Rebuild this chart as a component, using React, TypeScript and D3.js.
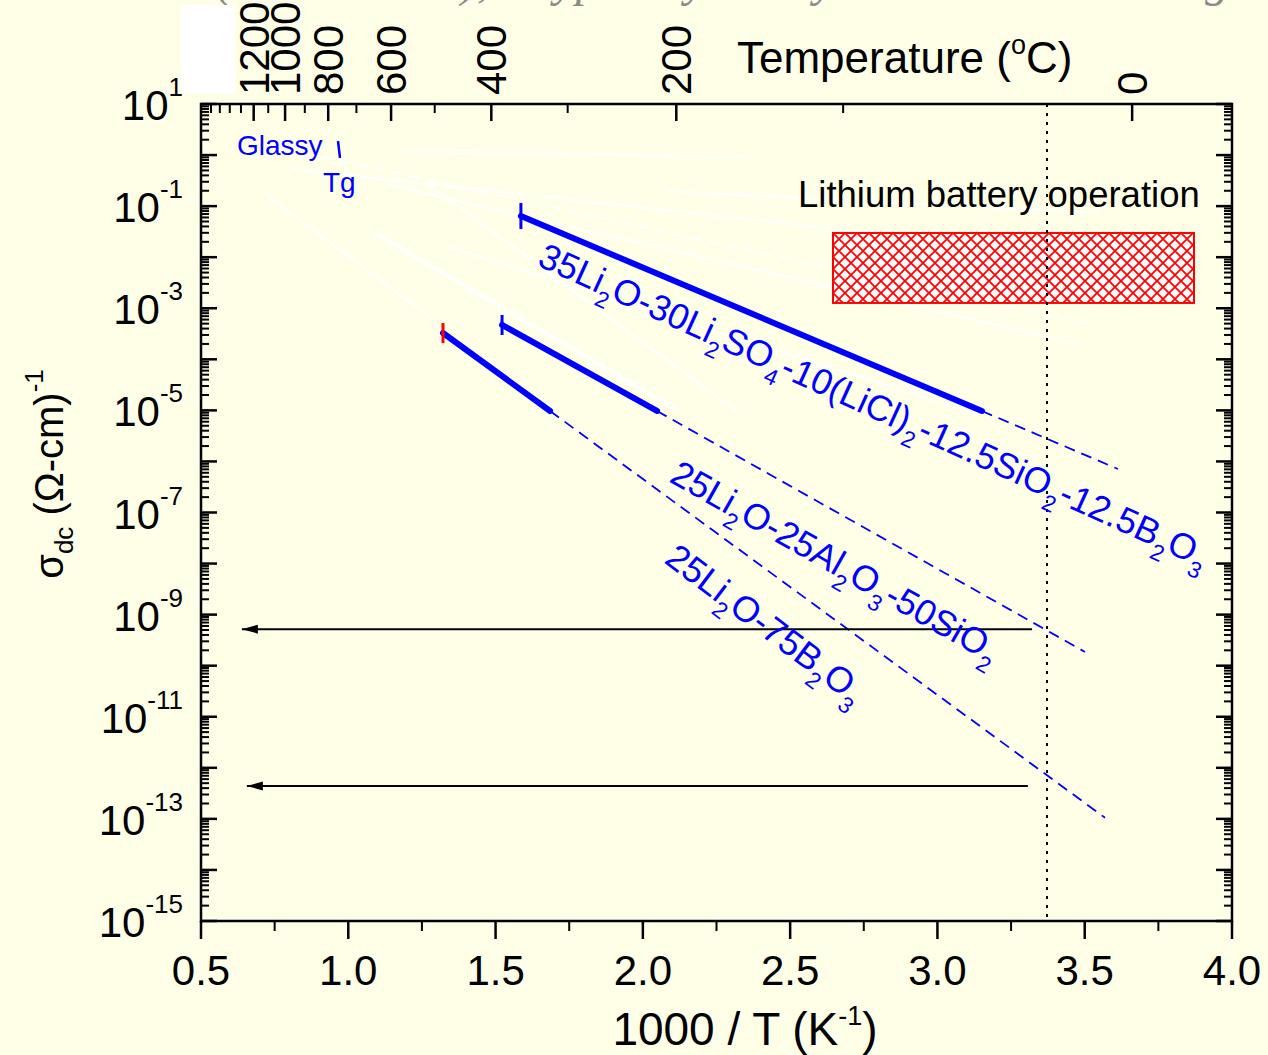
import React from "react";
import * as d3 from "d3";

// ---------- data ----------
// x values are 1000/T (K^-1), y values are sigma_dc (S/cm)
const invT_A = [1.586, 3.151, 3.613];
const sigma_A = [6.41e-2, 9.73e-6, 7.1e-7];
const invT_B = [1.522, 2.048, 3.501];
const sigma_B = [4.7e-4, 9.73e-6, 1.86e-10];
const invT_C = [1.3215, 1.685, 3.569];
const sigma_C = [3.27e-4, 9.73e-6, 1.05e-13];

const arrowSigma = [5.2e-10, 4.4e-13];
const arrowFrom = [3.321, 3.307];
const arrowTo = [0.632, 0.649];

const batteryInvT = [2.6455, 3.871];
const batterySigma = [1.27e-3, 2.98e-2];
const roomTempInvT = 3.372;

// faint (white) background curves: [[invT, sigma], [invT, sigma]]
const hiddenCurves: [number, number][][] = [
  [[1.182, 1.2], [2.357, 0.92]],
  [[0.806, 0.533], [3.552, 9.6e-3]],
  [[0.911, 0.916], [3.501, 5.1e-4]],
  [[1.138, 0.26], [3.494, 1.9e-4]],
  [[0.727, 0.158], [1.291, 5.9e-4]],
  [[1.084, 0.031], [2.119, 1.0e-5]],
  [[1.274, 0.26], [2.323, 9.3e-6]],
  [[1.342, 0.0158], [3.145, 8.1e-6]],
  [[2.082, 0.198], [3.552, 0.073]],
];
const hiddenDashedIdx = [2];
const hiddenThickIdx = [5];

const xTickLabels = ["0.5", "1.0", "1.5", "2.0", "2.5", "3.0", "3.5", "4.0"];
const xTicksMajor = [0.5, 1.0, 1.5, 2.0, 2.5, 3.0, 3.5, 4.0];
const xTicksMinor = [0.75, 1.25, 1.75, 2.25, 2.75, 3.25, 3.75];
const yLabelExps = [1, -1, -3, -5, -7, -9, -11, -13, -15];
const tempMajor = [0, 200, 400, 600, 800, 1000, 1200];
const tempMinor = [100, 300, 500, 700, 900, 1100, 1300, 1400, 1500, 1600];

const labelA: [string, boolean][] = [
  ["35Li", false], ["2", true], ["O-30Li", false], ["2", true], ["SO", false], ["4", true],
  ["-10(LiCl)", false], ["2", true], ["-12.5SiO", false], ["2", true], ["-12.5B", false],
  ["2", true], ["O", false], ["3", true],
];
const labelB: [string, boolean][] = [
  ["25Li", false], ["2", true], ["O-25Al", false], ["2", true], ["O", false], ["3", true],
  ["-50SiO", false], ["2", true],
];
const labelC: [string, boolean][] = [
  ["25Li", false], ["2", true], ["O-75B", false], ["2", true], ["O", false], ["3", true],
];

const FONT = "Arial, 'Liberation Sans', sans-serif";
const BLUE = "#0000FF";

function Formula({ parts, x, y, angle, size, sub }: any) {
  const shift = 12;
  let down = false;
  return (
    <text
      transform={`translate(${x},${y}) rotate(${angle})`}
      fontFamily={FONT}
      fontSize={size}
      fill={BLUE}
    >
      {parts.map(([t, isSub]: [string, boolean], i: number) => {
        let dy = 0;
        if (isSub && !down) { dy = shift; down = true; }
        else if (!isSub && down) { dy = -shift; down = false; }
        return (
          <tspan key={i} dy={dy} fontSize={isSub ? sub : size}>
            {t}
          </tspan>
        );
      })}
    </text>
  );
}

export default function App() {
  const L = 201, R = 1232, T = 104, B = 921;
  const x = d3.scaleLinear().domain([0.5, 4]).range([L, R]);
  const y = d3.scaleLog().domain([1e-15, 10]).range([B, T]);
  const line = d3
    .line<[number, number]>()
    .x((d) => x(d[0]))
    .y((d) => y(d[1]));

  const yMajor = d3.range(-15, 2).map((e) => Math.pow(10, e));
  const yMinor: number[] = [];
  for (let e = -15; e < 1; e++) for (let m = 2; m <= 9; m++) yMinor.push(m * Math.pow(10, e));
  const tX = (c: number) => x(1000 / (c + 273.15));

  const series = [
    { xs: invT_A, ys: sigma_A, tg: 13, tgColor: BLUE },
    { xs: invT_B, ys: sigma_B, tg: 10, tgColor: BLUE },
    { xs: invT_C, ys: sigma_C, tg: 10, tgColor: "#FF0000" },
  ];

  return (
    <div style={{ position: "absolute", left: 0, top: 0 }}>
      <svg width={1268} height={1055} style={{ display: "block" }}>
        <defs>
          <pattern id="hatch" patternUnits="userSpaceOnUse" width="12" height="12" x={x(batteryInvT[0])} y={y(batterySigma[1])}>
            <rect width="12" height="12" fill="#FFFFFF" />
            <path d="M-1,-1 L13,13 M13,-1 L-1,13" stroke="#FF0000" strokeWidth="1.8" />
          </pattern>
          <marker id="arrow" markerUnits="userSpaceOnUse" viewBox="-17 -5 18 10" markerWidth="18" markerHeight="10" refX="0" refY="0" orient="auto">
            <path d="M0,0 L-16,-4.5 L-16,4.5 Z" fill="#000" />
          </marker>
        </defs>
        <rect x={0} y={0} width={1268} height={1055} fill="#FFFFE8" />

        {/* cropped title */}
        <g fontFamily="'Liberation Serif', 'Times New Roman', serif" fontStyle="italic" fontSize={48} fill="#8a8a8a">
          <text x={216} y={-4}>(</text>
          <text x={461} y={-4}>),</text>
          <text x={541} y={-4}>typically</text>
          <text x={790} y={-4}>by</text>
          <text x={1205} y={-4}>g</text>
        </g>
        <rect x={181} y={5} width={54} height={88} fill="#FFFFFF" />

        {/* hidden white curves */}
        {hiddenCurves.map((c, i) => (
          <path
            key={i}
            d={line(c) || ""}
            fill="none"
            stroke="#FFFFFF"
            strokeWidth={hiddenThickIdx.includes(i) ? 4 : 2}
            strokeDasharray={hiddenDashedIdx.includes(i) ? "10,8" : undefined}
          />
        ))}

        {/* battery operation window */}
        <rect
          x={x(batteryInvT[0])}
          y={y(batterySigma[1])}
          width={x(batteryInvT[1]) - x(batteryInvT[0])}
          height={y(batterySigma[0]) - y(batterySigma[1])}
          fill="url(#hatch)"
          stroke="#FF0000"
          strokeWidth={2}
        />
        <text x={798} y={207} fontFamily={FONT} fontSize={36.5} fill="#000">
          Lithium battery operation
        </text>

        {/* room temperature dotted line */}
        <line x1={x(roomTempInvT)} x2={x(roomTempInvT)} y1={T} y2={B} stroke="#000" strokeWidth={2} strokeDasharray="3,6" />

        {/* series */}
        {series.map((s, i) => {
          const solid: [number, number][] = [[s.xs[0], s.ys[0]], [s.xs[1], s.ys[1]]];
          const dash: [number, number][] = [[s.xs[1], s.ys[1]], [s.xs[2], s.ys[2]]];
          return (
            <g key={i}>
              <path d={line(dash) || ""} fill="none" stroke={BLUE} strokeWidth={1.8} strokeDasharray="11,7" />
              <path d={line(solid) || ""} fill="none" stroke={BLUE} strokeWidth={6} strokeLinecap="round" />
              <line
                x1={x(s.xs[0])}
                x2={x(s.xs[0])}
                y1={y(s.ys[0]) - s.tg}
                y2={y(s.ys[0]) + s.tg}
                stroke={s.tgColor}
                strokeWidth={3}
              />
            </g>
          );
        })}

        {/* arrows */}
        {arrowSigma.map((sv, i) => (
          <line
            key={i}
            x1={x(arrowFrom[i])}
            x2={x(arrowTo[i]) + 2}
            y1={y(sv)}
            y2={y(sv)}
            stroke="#000"
            strokeWidth={2}
            markerEnd="url(#arrow)"
          />
        ))}

        {/* labels */}
        <Formula parts={labelA} x={536} y={265} angle={24.5} size={36} sub={23} />
        <Formula parts={labelB} x={668} y={481} angle={29.5} size={36} sub={23} />
        <Formula parts={labelC} x={663} y={562} angle={37} size={36} sub={23} />

        <text x={237} y={155} fontFamily={FONT} fontSize={28} fill={BLUE}>Glassy</text>
        <line x1={338} y1={141} x2={340} y2={158} stroke={BLUE} strokeWidth={2.5} />
        <text x={323} y={192} fontFamily={FONT} fontSize={28} fill={BLUE}>Tg</text>

        {/* frame */}
        <rect x={L} y={T} width={R - L} height={B - T} fill="none" stroke="#000" strokeWidth={2.5} />

        {/* left & right ticks */}
        {yMajor.map((v, i) => (
          <g key={"ym" + i} stroke="#000" strokeWidth={2.5}>
            <line x1={L} x2={L + 16} y1={y(v)} y2={y(v)} />
            <line x1={R} x2={R - 16} y1={y(v)} y2={y(v)} />
          </g>
        ))}
        {yMinor.map((v, i) => (
          <g key={"yn" + i} stroke="#000" strokeWidth={2}>
            <line x1={L} x2={L + 8} y1={y(v)} y2={y(v)} />
            <line x1={R} x2={R - 8} y1={y(v)} y2={y(v)} />
          </g>
        ))}

        {/* bottom ticks */}
        {xTicksMajor.map((v, i) => (
          <line key={"xm" + i} x1={x(v)} x2={x(v)} y1={B} y2={B + 18} stroke="#000" strokeWidth={2.5} />
        ))}
        {xTicksMinor.map((v, i) => (
          <line key={"xn" + i} x1={x(v)} x2={x(v)} y1={B} y2={B + 10} stroke="#000" strokeWidth={2} />
        ))}
        {xTicksMajor.map((v, i) => (
          <text key={"xl" + i} x={x(v)} y={985} textAnchor="middle" fontFamily={FONT} fontSize={42} fill="#000">
            {xTickLabels[i]}
          </text>
        ))}

        {/* top temperature ticks */}
        {tempMajor.map((c, i) => (
          <line key={"tm" + i} x1={tX(c)} x2={tX(c)} y1={T} y2={T + 17} stroke="#000" strokeWidth={2.5} />
        ))}
        {tempMinor.map((c, i) => (
          <line key={"tn" + i} x1={tX(c)} x2={tX(c)} y1={T} y2={T + 9} stroke="#000" strokeWidth={2} />
        ))}
        {tempMajor.map((c, i) => (
          <text
            key={"tl" + i}
            transform={`translate(${tX(c) + 15},95) rotate(-90)`}
            fontFamily={FONT}
            fontSize={42}
            fill="#000"
          >
            {String(c)}
          </text>
        ))}

        {/* y tick labels */}
        {yLabelExps.map((e, i) => (
          <text key={"yl" + i} x={183} y={y(Math.pow(10, e)) + 16} textAnchor="end" fontFamily={FONT} fontSize={42} fill="#000">
            10
            <tspan fontSize={26} dy={-24}>{e < 0 ? "-" + Math.abs(e) : String(e)}</tspan>
          </text>
        ))}

        {/* axis titles */}
        <text x={737} y={73} fontFamily={FONT} fontSize={44} fill="#000">
          Temperature (<tspan fontSize={27} dy={-19}>o</tspan>
          <tspan dy={19}>C)</tspan>
        </text>
        <text x={745} y={1045} textAnchor="middle" fontFamily={FONT} fontSize={46} fill="#000">
          1000 / T (K<tspan fontSize={27} dy={-20}>-1</tspan>
          <tspan dy={20}>)</tspan>
        </text>
        <text transform="translate(63,474) rotate(-90)" textAnchor="middle" fontFamily={FONT} fontSize={40} fill="#000">
          σ<tspan fontSize={26} dy={10}>dc</tspan>
          <tspan dy={-10}> (Ω-cm)</tspan>
          <tspan fontSize={26} dy={-20}>-1</tspan>
        </text>
      </svg>
    </div>
  );
}
